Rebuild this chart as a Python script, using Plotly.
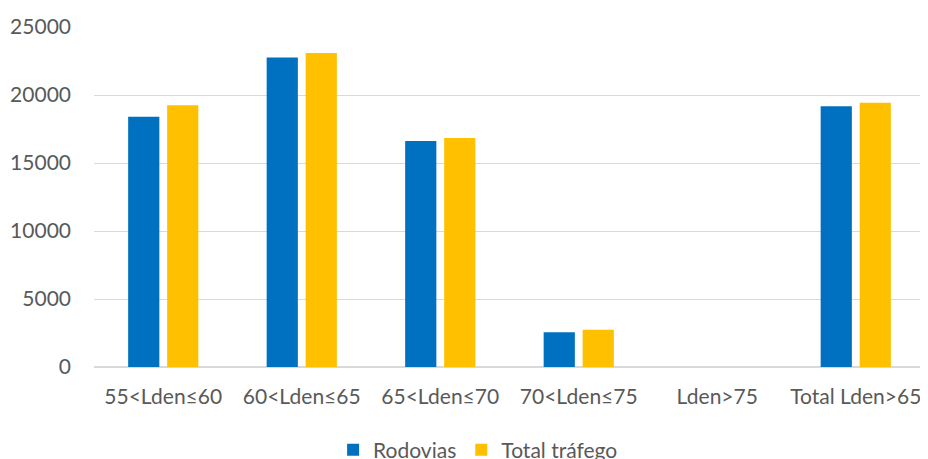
import plotly.graph_objects as go

categories = ["55<Lden≤60", "60<Lden≤65", "65<Lden≤70", "70<Lden≤75", "Lden>75", "Total Lden>65"]
rodovias = [18400, 22750, 16620, 2560, 0, 19170]
total_trafego = [19250, 23080, 16840, 2740, 0, 19430]
y_ticks = [0, 5000, 10000, 15000, 20000, 25000]

font_family = "Lato, 'Open Sans', sans-serif"
gray = "#595959"

fig = go.Figure()
fig.add_trace(go.Bar(name="Rodovias", x=categories, y=rodovias,
                     marker=dict(color="#0070C0", line=dict(width=0))))
fig.add_trace(go.Bar(name="Total tráfego", x=categories, y=total_trafego,
                     marker=dict(color="#FFC000", line=dict(width=0))))

# page body has an 8px default margin, so the figure is sized/offset to compensate
fig.update_layout(
    width=920, height=451,
    margin=dict(l=86, r=3, t=19, b=92, autoexpand=False),
    paper_bgcolor="white", plot_bgcolor="white",
    barmode="group", bargap=0.437, bargroupgap=0.2,
    font=dict(family=font_family, size=21, color=gray),
    showlegend=True,
    legend=dict(orientation="h", xref="container", yref="container",
                x=0.511, xanchor="center", y=0.02, yanchor="middle",
                font=dict(size=21, color=gray), traceorder="normal"),
    xaxis=dict(showgrid=False, showline=True, linecolor="#d9d9d9", linewidth=1,
               ticks="", tickfont=dict(size=21, color=gray), ticklabelstandoff=11,
               automargin=False),
    yaxis=dict(range=[0, 25000], tickvals=y_ticks, ticktext=[str(v) for v in y_ticks],
               showgrid=True, gridcolor="#d9d9d9",
               gridwidth=1, zeroline=True, zerolinecolor="#d9d9d9", showline=False,
               ticks="", tickfont=dict(size=21, color=gray), ticklabelstandoff=22,
               automargin=False),
)

fig.write_html("out.html")
